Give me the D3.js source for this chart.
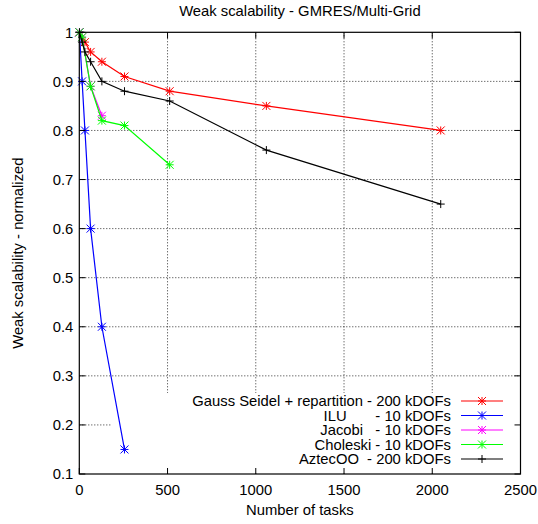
<!DOCTYPE html>
<html><head><meta charset="utf-8">
<script src="https://cdn.jsdelivr.net/npm/d3@7"></script>
<style>body{margin:0;background:#fff}text{font-family:"Liberation Sans",Arial,sans-serif;fill:#000}</style>
</head><body><svg id="c" width="538" height="524"></svg>
<script>
const xTicks=[0,500,1000,1500,2000,2500];
const yTicks=[0.1,0.2,0.3,0.4,0.5,0.6,0.7,0.8,0.9,1];
const gaussX=[1,32,64,128,256,512,1060,2048];
const gaussY=[1.0,0.98,0.96,0.94,0.91,0.88,0.85,0.80];
const iluX=[1,16,32,64,128,256];
const iluY=[1.0,0.90,0.80,0.60,0.40,0.15];
const jacobiX=[1,16,64,128];
const jacobiY=[1.0,0.99,0.89,0.83];
const choleskiX=[1,16,64,128,256,512];
const choleskiY=[1.0,0.99,0.89,0.82,0.81,0.73];
const aztecX=[1,16,32,64,128,256,512,1060,2048];
const aztecY=[1.0,0.98,0.96,0.94,0.90,0.88,0.86,0.76,0.65];
const seriesNames=["Gauss Seidel + repartition - 200 kDOFs","ILU       - 10 kDOFs","Jacobi   - 10 kDOFs","Choleski - 10 kDOFs","AztecOO  - 200 kDOFs"];
const seriesColors=["#ff0000","#0000ff","#ff00ff","#00ff00","#000000"];
const seriesMarks=["star","star","star","star","plus"];
const series=[[gaussX,gaussY],[iluX,iluY],[jacobiX,jacobiY],[choleskiX,choleskiY],[aztecX,aztecY]];

const FS=14.8;
const svg=d3.select("#c");
const L=79.3,R=520.5,T=32.3,B=474;
const x=d3.scaleLinear().domain([0,2500]).range([L,R]);
const y=d3.scaleLinear().domain([0.1,1]).range([B,T]);

// grid
const g=svg.append("g");
g.selectAll(".gx").data(xTicks.slice(1,-1)).join("line")
 .attr("x1",d=>x(d)).attr("x2",d=>x(d)).attr("y1",T).attr("y2",B)
 .attr("stroke","#000").attr("stroke-width",1).attr("stroke-dasharray","1,2").attr("opacity",0.8);
g.selectAll(".gy").data(yTicks.slice(1,-1)).join("line")
 .attr("x1",L).attr("x2",R).attr("y1",d=>y(d)).attr("y2",d=>y(d))
 .attr("stroke","#000").attr("stroke-width",1).attr("stroke-dasharray","1,2").attr("opacity",0.8);
// opaque key area
svg.append("rect").attr("x",112).attr("y",393).attr("width",R-112-1).attr("height",B-393-1).attr("fill","#fff");

function marker(sel,type,color,cx,cy){
  const s=4;
  let p=`M${cx-s},${cy}L${cx+s},${cy}M${cx},${cy-s}L${cx},${cy+s}`;
  if(type==="star") p+=`M${cx-s},${cy-s}L${cx+s},${cy+s}M${cx-s},${cy+s}L${cx+s},${cy-s}`;
  sel.append("path").attr("d",p).attr("stroke",color).attr("stroke-width",1).attr("fill","none");
}
const line=d3.line().x(d=>x(d[0])).y(d=>y(d[1]));
series.forEach((s,i)=>{
  const pts=s[0].map((v,j)=>[v,s[1][j]]);
  const gg=svg.append("g");
  gg.append("path").attr("d",line(pts)).attr("fill","none").attr("stroke",seriesColors[i]).attr("stroke-width",1.2);
  pts.forEach(p=>marker(gg,seriesMarks[i],seriesColors[i],x(p[0]),y(p[1])));
});

// border & ticks
svg.append("rect").attr("x",L).attr("y",T).attr("width",R-L).attr("height",B-T).attr("fill","none").attr("stroke","#000").attr("stroke-width",1.2);
const tk=svg.append("g").attr("stroke","#000").attr("stroke-width",1);
xTicks.forEach(d=>{tk.append("line").attr("x1",x(d)).attr("x2",x(d)).attr("y1",B).attr("y2",B-6);
 tk.append("line").attr("x1",x(d)).attr("x2",x(d)).attr("y1",T).attr("y2",T+6);});
yTicks.forEach(d=>{tk.append("line").attr("x1",L).attr("x2",L+6).attr("y1",y(d)).attr("y2",y(d));
 tk.append("line").attr("x1",R).attr("x2",R-6).attr("y1",y(d)).attr("y2",y(d));});
svg.append("g").selectAll("text").data(xTicks).join("text")
 .attr("x",d=>x(d)).attr("y",B+21).attr("text-anchor","middle").attr("font-size",FS).text(d=>d);
svg.append("g").selectAll("text").data(yTicks).join("text")
 .attr("x",L-6).attr("y",d=>y(d)+5.3).attr("text-anchor","end").attr("font-size",FS).text(d=>d3.format("")(d));

svg.append("text").attr("x",(L+R)/2).attr("y",16).attr("text-anchor","middle").attr("font-size",FS).text("Weak scalability - GMRES/Multi-Grid");
svg.append("text").attr("x",(L+R)/2).attr("y",515).attr("text-anchor","middle").attr("font-size",FS).text("Number of tasks");
svg.append("text").attr("transform",`translate(23,${(T+B)/2}) rotate(-90)`).attr("text-anchor","middle").attr("font-size",FS).text("Weak scalability - normalized");

// legend
const lg=svg.append("g");
seriesNames.forEach((n,i)=>{
  const yy=401+i*14.5;
  lg.append("text").attr("x",451).attr("y",yy+5).attr("text-anchor","end").attr("font-size",FS).style("white-space","pre").attr("xml:space","preserve").text(n);
  lg.append("line").attr("x1",461).attr("x2",503).attr("y1",yy).attr("y2",yy).attr("stroke",seriesColors[i]).attr("stroke-width",1.2);
  marker(lg,seriesMarks[i],seriesColors[i],482,yy);
});
</script></body></html>
